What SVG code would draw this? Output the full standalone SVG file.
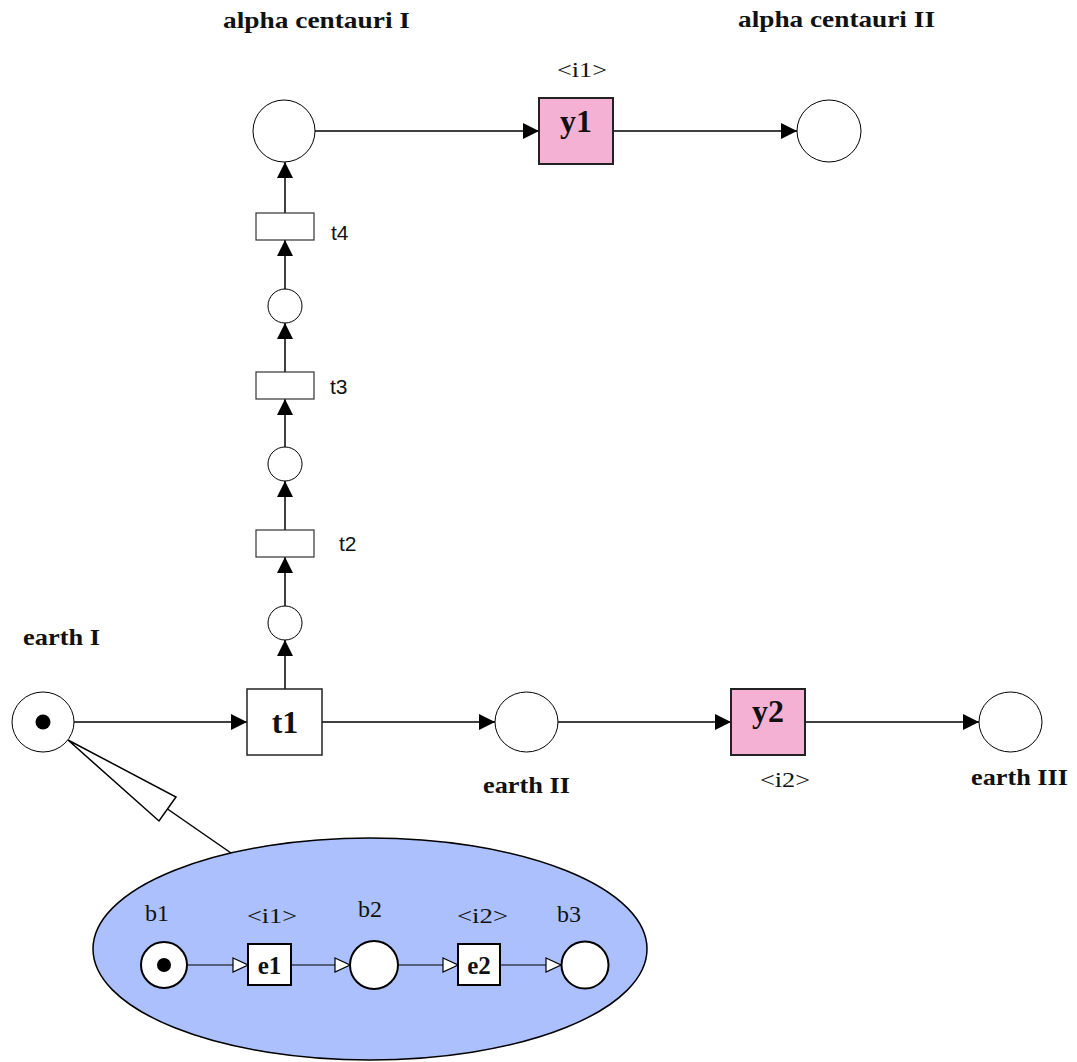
<svg xmlns="http://www.w3.org/2000/svg" width="1077" height="1062" viewBox="0 0 1077 1062">
<defs>
<marker id="arr" viewBox="0 0 16 16" refX="16" refY="8" markerWidth="16" markerHeight="16" markerUnits="userSpaceOnUse" orient="auto">
<path d="M0,0 L16,8 L0,16 Z" fill="#000"/>
</marker>
<marker id="oarr" viewBox="0 0 17 16" refX="16" refY="8" markerWidth="17" markerHeight="16" markerUnits="userSpaceOnUse" orient="auto">
<path d="M1,1 L16,8 L1,15 Z" fill="#fff" stroke="#000" stroke-width="1.2"/>
</marker>
</defs>
<style>
.place{fill:#fff;stroke:#000;stroke-width:1}
.iplace{fill:#fff;stroke:#000;stroke-width:2}
.trans{fill:#fff;stroke:#222;stroke-width:1.5}
.strans{fill:#fff;stroke:#333;stroke-width:1.2}
.pink{fill:#f5b1d3;stroke:#222;stroke-width:2}
.itrans{fill:#fff;stroke:#000;stroke-width:2}
.edge{stroke:#000;stroke-width:1.5;fill:none;marker-end:url(#arr)}
.iedge{stroke:#000;stroke-width:1.2;fill:none;marker-end:url(#oarr)}
.lbl{font-family:"Liberation Serif",serif;font-weight:bold;font-size:23px;fill:#111}
.big{font-family:"Liberation Serif",serif;font-weight:bold;font-size:32px;fill:#111;text-anchor:middle}
.ser{font-family:"Liberation Serif",serif;font-size:22px;fill:#111}
.bl{font-family:"Liberation Serif",serif;font-size:24px;fill:#111}
.sans{font-family:"Liberation Sans",sans-serif;font-size:21px;fill:#111}
.ib{font-family:"Liberation Serif",serif;font-weight:bold;font-size:25px;fill:#111;text-anchor:middle}
</style>

<g id="detail-ellipse">
<ellipse cx="370" cy="949" rx="277" ry="111" fill="#abc0fd" stroke="#000" stroke-width="1.5"/>
</g>

<g id="callout">
<polygon points="68,740 176,797 159,821" fill="#fff" stroke="#000" stroke-width="1.5"/>
<line x1="167.5" y1="809" x2="231" y2="853" stroke="#000" stroke-width="1.5"/>
</g>

<g id="connectors">
<line class="edge" x1="74" y1="722" x2="247" y2="722"/>
<line class="edge" x1="322" y1="722" x2="495" y2="722"/>
<line class="edge" x1="558" y1="722" x2="731" y2="722"/>
<line class="edge" x1="805" y1="722" x2="979" y2="722"/>
<line class="edge" x1="315" y1="131" x2="539" y2="131"/>
<line class="edge" x1="613" y1="131" x2="797" y2="131"/>
<line class="edge" x1="285" y1="689" x2="285" y2="640"/>
<line class="edge" x1="285" y1="606" x2="285" y2="557"/>
<line class="edge" x1="285" y1="530" x2="285" y2="481"/>
<line class="edge" x1="285" y1="447" x2="285" y2="399"/>
<line class="edge" x1="285" y1="372" x2="285" y2="323"/>
<line class="edge" x1="285" y1="289" x2="285" y2="240"/>
<line class="edge" x1="285" y1="213" x2="285" y2="162"/>
<line class="iedge" x1="188" y1="965" x2="248" y2="965"/>
<line class="iedge" x1="291" y1="965" x2="350" y2="965"/>
<line class="iedge" x1="398" y1="965" x2="458" y2="965"/>
<line class="iedge" x1="500" y1="965" x2="561" y2="965"/>
</g>

<g id="earth1">
<ellipse class="place" cx="43" cy="722" rx="31" ry="30"/>
<circle cx="43" cy="722" r="7.5" fill="#000"/>
<text class="lbl" x="23" y="645" textLength="77" lengthAdjust="spacingAndGlyphs">earth I</text>
</g>
<g id="t1">
<rect class="trans" x="247" y="689" width="75" height="66"/>
<text class="big" x="285" y="733">t1</text>
</g>
<g id="earth2">
<ellipse class="place" cx="526.5" cy="722" rx="31.5" ry="30"/>
<text class="lbl" x="483" y="793" textLength="87" lengthAdjust="spacingAndGlyphs">earth II</text>
</g>
<g id="y2">
<rect class="pink" x="731" y="689" width="74" height="66"/>
<text class="big" x="768" y="722">y2</text>
<text class="ser" x="760" y="787" textLength="50" lengthAdjust="spacingAndGlyphs">&lt;i2&gt;</text>
</g>
<g id="earth3">
<ellipse class="place" cx="1010.5" cy="722" rx="31.5" ry="30"/>
<text class="lbl" x="971" y="785" textLength="97" lengthAdjust="spacingAndGlyphs">earth III</text>
</g>
<g id="p-c3">
<circle class="place" cx="285" cy="623" r="17"/>
</g>
<g id="t2">
<rect class="strans" x="256" y="530" width="58" height="27"/>
<text class="sans" x="339" y="551">t2</text>
</g>
<g id="p-c2">
<circle class="place" cx="285" cy="464" r="17"/>
</g>
<g id="t3">
<rect class="strans" x="256" y="372" width="58" height="27"/>
<text class="sans" x="330" y="394">t3</text>
</g>
<g id="p-c1">
<circle class="place" cx="285" cy="306" r="17"/>
</g>
<g id="t4">
<rect class="strans" x="256" y="213" width="58" height="27"/>
<text class="sans" x="331" y="240">t4</text>
</g>
<g id="alpha1">
<ellipse class="place" cx="284" cy="131" rx="31" ry="31"/>
<text class="lbl" x="223" y="28" textLength="187" lengthAdjust="spacingAndGlyphs">alpha centauri I</text>
</g>
<g id="y1">
<rect class="pink" x="539" y="98" width="74" height="66"/>
<text class="big" x="576" y="132">y1</text>
<text class="ser" x="557" y="77" textLength="50" lengthAdjust="spacingAndGlyphs">&lt;i1&gt;</text>
</g>
<g id="alpha2">
<ellipse class="place" cx="829" cy="131" rx="32" ry="31"/>
<text class="lbl" x="738" y="27" textLength="197" lengthAdjust="spacingAndGlyphs">alpha centauri II</text>
</g>

<g id="b1">
<circle class="iplace" cx="164" cy="965" r="23"/>
<circle cx="164" cy="965" r="7" fill="#000"/>
<text class="bl" x="145" y="921">b1</text>
</g>
<g id="e1">
<rect class="itrans" x="248" y="944" width="43" height="41"/>
<text class="ib" x="269.5" y="974">e1</text>
<text class="ser" x="247" y="923" textLength="50" lengthAdjust="spacingAndGlyphs">&lt;i1&gt;</text>
</g>
<g id="b2">
<circle class="iplace" cx="374" cy="965" r="24"/>
<text class="bl" x="358" y="917">b2</text>
</g>
<g id="e2">
<rect class="itrans" x="458" y="944" width="42" height="41"/>
<text class="ib" x="479" y="974">e2</text>
<text class="ser" x="457" y="923" textLength="51" lengthAdjust="spacingAndGlyphs">&lt;i2&gt;</text>
</g>
<g id="b3">
<circle class="iplace" cx="585" cy="965" r="23.5"/>
<text class="bl" x="557" y="922">b3</text>
</g>
</svg>
